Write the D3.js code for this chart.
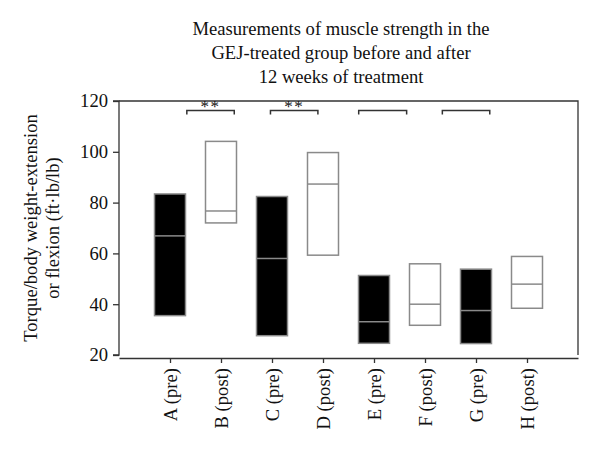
<!DOCTYPE html>
<html><head><meta charset="utf-8">
<script src="https://cdn.jsdelivr.net/npm/d3@7"></script>
<style>body{margin:0;background:#fff}svg{display:block}text{font-family:"Liberation Serif","DejaVu Serif",serif;fill:#111}</style>
</head><body>
<svg id="c" width="600" height="454"></svg>
<script>
const categories = ["A (pre)","B (post)","C (pre)","D (post)","E (pre)","F (post)","G (pre)","H (post)"];
const boxLow    = [35.5, 72.0, 27.6, 59.3, 24.6, 31.7, 24.5, 38.4];
const boxMedian = [66.9, 76.7, 58.0, 87.3, 33.1, 40.0, 37.5, 47.9];
const boxHigh   = [83.4, 104.1, 82.4, 99.7, 51.3, 55.9, 53.8, 58.8];
const isPre     = [true, false, true, false, true, false, true, false];
const yTicks = [20, 40, 60, 80, 100, 120];
// significance brackets: start/end in category-index units, label
const bracketStart = [1.33, 2.97, 4.70, 6.34];
const bracketEnd   = [2.26, 3.90, 5.64, 7.27];
const bracketLabel = ["**", "**", "", ""];
const bracketValue = 116.3;
const titleLines = ["Measurements of muscle strength in the","GEJ-treated group before and after","12 weeks of treatment"];
const yLabelLines = ["Torque/body weight-extension","or flexion (ft·lb/lb)"];

const svg = d3.select("#c");
const L = 119, R = 578, T = 101, B = 355;
const y = d3.scaleLinear().domain([20,120]).range([B,T]);
const x = d3.scalePoint().domain(categories).range([L,R]).padding(1);
const xi = d3.scaleLinear().domain([0,categories.length+1]).range([L,R]);
const bw = 31;
const FS = 18.6;

// frame (top, right)
svg.append("path").attr("d",`M${L},${T}H${R}V${B}`).attr("fill","none").attr("stroke","#333").attr("stroke-width",1.3);

// y axis
const ya = svg.append("g").attr("transform",`translate(${L},0)`)
  .call(d3.axisLeft(y).tickValues(yTicks).tickSize(6).tickPadding(5));
ya.selectAll("path").attr("d",`M-6,${B}H0V${T}H-6`).attr("stroke","#333").attr("stroke-width",1.3);
ya.selectAll("line").attr("stroke","#333").attr("stroke-width",1.3);
ya.selectAll("text").attr("font-size",FS).style("font-family",'"Liberation Serif",serif').attr("fill","#111");

// x axis
const xa = svg.append("g").attr("transform",`translate(0,${B+3})`)
  .call(d3.axisBottom(x).tickSize(5).tickSizeOuter(0));
xa.select("path").attr("stroke","#333").attr("stroke-width",1.3);
xa.selectAll("line").attr("stroke","#333").attr("stroke-width",1.3);
xa.selectAll("text").attr("font-size",FS).style("font-family",'"Liberation Serif",serif').attr("fill","#111")
  .attr("transform","rotate(-90)").attr("text-anchor","end").attr("x",-10).attr("y",0).attr("dy","0.35em");

// boxes
const g = svg.append("g");
categories.forEach((c,i)=>{
  const cx = x(c);
  g.append("rect").attr("x",cx-bw/2).attr("width",bw)
    .attr("y",y(boxHigh[i])).attr("height",y(boxLow[i])-y(boxHigh[i]))
    .attr("fill",isPre[i]?"#000":"#fff").attr("stroke","#8a8a8a").attr("stroke-width",1.5);
  g.append("line").attr("x1",cx-bw/2).attr("x2",cx+bw/2)
    .attr("y1",y(boxMedian[i])).attr("y2",y(boxMedian[i]))
    .attr("stroke","#8a8a8a").attr("stroke-width",1.5);
});

// brackets
bracketStart.forEach((s,i)=>{
  const x1 = xi(s), x2 = xi(bracketEnd[i]), yy = y(bracketValue);
  svg.append("path").attr("d",`M${x1},${yy+4}V${yy}H${x2}V${yy+4}`)
    .attr("fill","none").attr("stroke","#333").attr("stroke-width",1.5);
  if (bracketLabel[i]) svg.append("text").attr("x",(x1+x2)/2).attr("y",yy+2)
    .attr("text-anchor","middle").attr("font-size",17).attr("letter-spacing","1.5px").text(bracketLabel[i]);
});

// title
titleLines.forEach((t,i)=>{
  svg.append("text").attr("x",341).attr("y",35+i*24).attr("text-anchor","middle")
    .attr("font-size",FS).text(t);
});
// y label
yLabelLines.forEach((t,i)=>{
  svg.append("text").attr("transform",`translate(${37+i*22},228) rotate(-90)`)
    .attr("text-anchor","middle").attr("font-size",FS).text(t);
});
</script>
</body></html>
